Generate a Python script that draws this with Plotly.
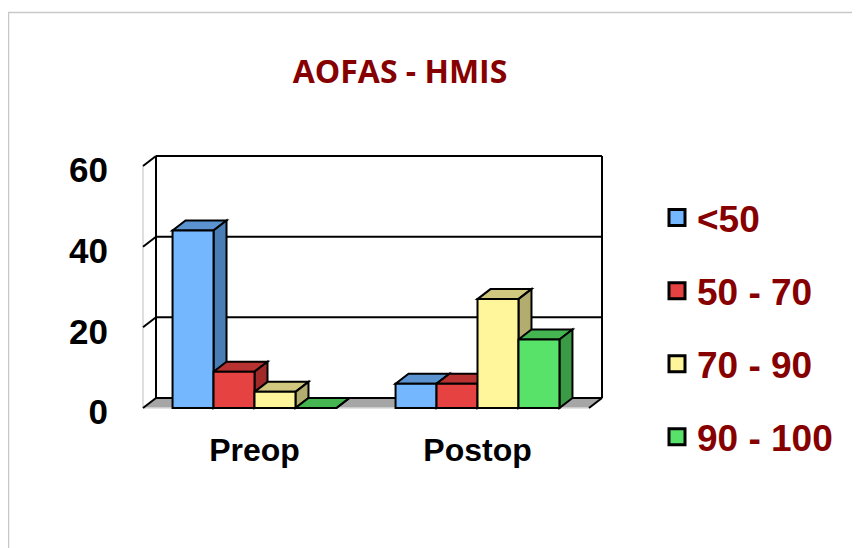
import plotly.graph_objects as go

# ---------------- data ----------------
categories = ["Preop", "Postop"]
series_names = ["<50", "50 - 70", "70 - 90", "90 - 100"]
series_values = [
    [44, 6],   # <50
    [9, 6],    # 50 - 70
    [4, 27],   # 70 - 90
    [0, 17],   # 90 - 100
]
y_ticks = [0, 20, 40, 60]
title_text = "AOFAS - HMIS"

# ---------------- style ----------------
front_colors = ["#75b7ff", "#e64242", "#fff59a", "#58e26a"]
top_colors = ["#5b93d0", "#b83232", "#cfc87e", "#44b550"]
side_colors = ["#4a7db3", "#a02a2a", "#b2ad6e", "#3a9a45"]
label_red = "#860000"

OFF = 8  # default page body margin of the html page
SCREEN_W, SCREEN_H = 860, 548
W, H = SCREEN_W - OFF, SCREEN_H - OFF


def sx(p):  # screen px -> figure px
    return p - OFF


FRONT_LEFT_PX = sx(143.0)  # front-left plane edge
CAT_PX = 223.0             # pixels per category
ZERO_PX = sx(408.0)        # value 0 on front plane
UNIT_PX = 242.0 / 60.0     # pixels per value unit
DX_PX, DY_PX = 13.0, 10.0  # depth offset in pixels
L, R, T, B = sx(141), sx(606), sx(153), sx(411)  # plot area pixels

bargap = 0.265
n_series = len(series_names)
bw = (1 - bargap) / n_series

xr = [-0.5 + (L - FRONT_LEFT_PX) / CAT_PX, -0.5 + (R - FRONT_LEFT_PX) / CAT_PX]
yr = [(ZERO_PX - B) / UNIT_PX, (ZERO_PX - T) / UNIT_PX]
ddx = DX_PX / CAT_PX
ddy = DY_PX / UNIT_PX
ymax = y_ticks[-1]
x_fl = -0.5
x_fr = len(categories) - 0.5


def poly(pts):
    return "M " + " L ".join(f"{x},{y}" for x, y in pts) + " Z"


def px2paper_x(p):
    return (sx(p) - L) / (R - L)


def px2paper_y(p):
    return (B - sx(p)) / (B - T)


shapes = []
# floor
shapes.append(dict(type="path", xref="x", yref="y", layer="below",
                   path=poly([(x_fl, 0), (x_fr, 0), (x_fr + ddx, ddy), (x_fl + ddx, ddy)]),
                   fillcolor="#a6a6a6", line=dict(width=0)))
# floor front edge (light)
shapes.append(dict(type="line", xref="x", yref="y", layer="below",
                   x0=x_fl, y0=0, x1=x_fr, y1=0, line=dict(color="#d9d9d9", width=1.5)))
# front-left wall edge (light)
shapes.append(dict(type="line", xref="x", yref="y", layer="below",
                   x0=x_fl, y0=0, x1=x_fl, y1=ymax, line=dict(color="#d4d4d4", width=1.5)))
# back wall grid lines (incl. bottom & top)
for v in y_ticks:
    shapes.append(dict(type="line", xref="x", yref="y", layer="below",
                       x0=x_fl + ddx, y0=v + ddy, x1=x_fr + ddx, y1=v + ddy,
                       line=dict(color="black", width=2)))
    # left wall tick diagonals
    shapes.append(dict(type="line", xref="x", yref="y", layer="below",
                       x0=x_fl, y0=v, x1=x_fl + ddx, y1=v + ddy,
                       line=dict(color="black", width=2)))
# back wall left & right verticals
for xv in (x_fl + ddx, x_fr + ddx):
    shapes.append(dict(type="line", xref="x", yref="y", layer="below",
                       x0=xv, y0=ddy, x1=xv, y1=ymax + ddy,
                       line=dict(color="black", width=2)))
# floor right diagonal
shapes.append(dict(type="line", xref="x", yref="y", layer="below",
                   x0=x_fr, y0=0, x1=x_fr + ddx, y1=ddy,
                   line=dict(color="black", width=2)))

# 3D top and side faces of bars
for j, _cat in enumerate(categories):
    for i in range(n_series):
        v = series_values[i][j]
        xc = j + (i - (n_series - 1) / 2) * bw
        x0, x1 = xc - bw / 2, xc + bw / 2
        shapes.append(dict(type="path", xref="x", yref="y", layer="below",
                           path=poly([(x0, v), (x1, v), (x1 + ddx, v + ddy), (x0 + ddx, v + ddy)]),
                           fillcolor=top_colors[i], line=dict(color="black", width=2)))
        shapes.append(dict(type="path", xref="x", yref="y", layer="below",
                           path=poly([(x1, 0), (x1, v), (x1 + ddx, v + ddy), (x1 + ddx, ddy)]),
                           fillcolor=side_colors[i], line=dict(color="black", width=2)))

# outer border
shapes.append(dict(type="rect", xref="paper", yref="paper", layer="above",
                   x0=px2paper_x(8.5), y0=px2paper_y(SCREEN_H + 20),
                   x1=px2paper_x(SCREEN_W + 20), y1=px2paper_y(12.5),
                   line=dict(color="#c8c8c8", width=1.5), fillcolor="rgba(0,0,0,0)"))

fig = go.Figure()
for i, name in enumerate(series_names):
    fig.add_trace(go.Bar(
        x=categories, y=series_values[i], name=name,
        marker=dict(color=front_colors[i], line=dict(color="black", width=2)),
        showlegend=False, hoverinfo="skip",
    ))
for i, name in enumerate(series_names):
    fig.add_trace(go.Scatter(
        x=[None], y=[None], mode="markers", name=name, legendgroup=name,
        marker=dict(symbol="square", size=16, color=front_colors[i],
                    line=dict(color="black", width=3)),
    ))

fig.update_layout(
    width=W, height=H,
    margin=dict(l=L, r=W - R, t=T, b=H - B, pad=0, autoexpand=False),
    paper_bgcolor="white", plot_bgcolor="rgba(0,0,0,0)",
    barmode="group", bargap=bargap, bargroupgap=0,
    shapes=shapes,
    title=dict(text=title_text, xref="container", yref="container",
               x=sx(400) / W, y=1 - sx(72) / H, xanchor="center", yanchor="middle",
               font=dict(family="Open Sans", size=32, color=label_red, weight="bold")),
    xaxis=dict(range=xr, showgrid=False, zeroline=False, showline=False, ticks="",
               automargin=False,
               tickfont=dict(family="Liberation Sans", size=32, color="black", weight="bold"),
               ticklabelstandoff=17, fixedrange=True),
    yaxis=dict(range=yr, showgrid=False, zeroline=False, showline=False, ticks="",
               automargin=False, tickvals=y_ticks,
               tickfont=dict(family="Liberation Sans", size=35, color="black", weight="bold"),
               ticklabelstandoff=32, ticklabelshift=4, fixedrange=True),
    legend=dict(x=px2paper_x(657), y=px2paper_y(187), xanchor="left", yanchor="top",
                font=dict(family="Liberation Sans", size=37, color=label_red, weight="bold"),
                tracegroupgap=22, maxheight=420, bgcolor="rgba(0,0,0,0)",
                itemclick=False, itemdoubleclick=False),
    showlegend=True,
)

fig.write_html("out.html")
